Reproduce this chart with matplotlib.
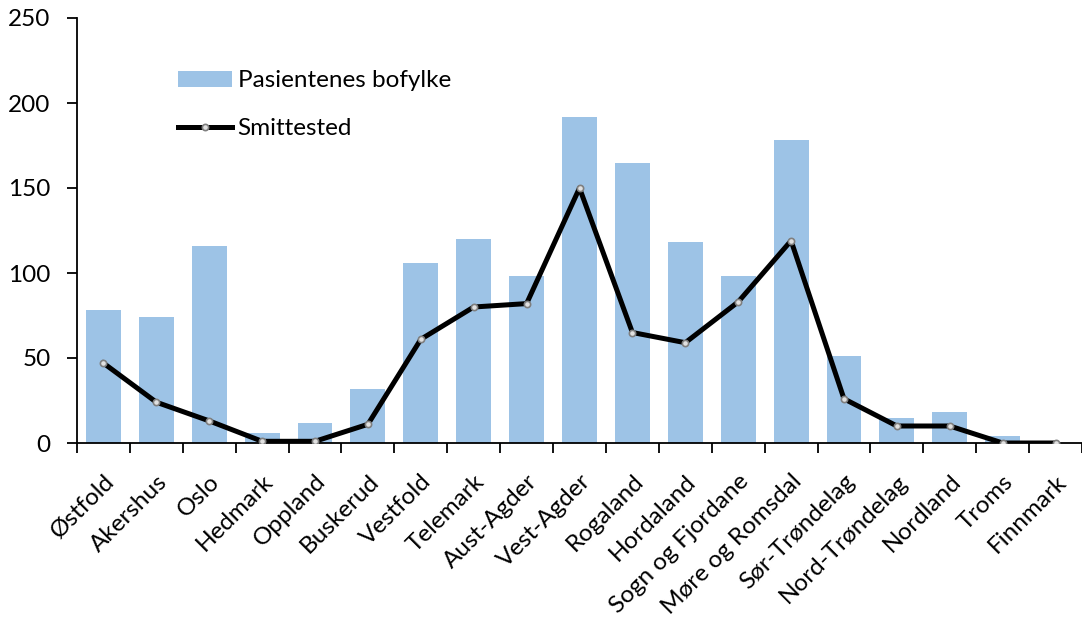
import numpy as np
import matplotlib.pyplot as plt

fylker = ['Østfold', 'Akershus', 'Oslo', 'Hedmark', 'Oppland', 'Buskerud',
          'Vestfold', 'Telemark', 'Aust-Agder', 'Vest-Agder', 'Rogaland',
          'Hordaland', 'Sogn og Fjordane', 'Møre og Romsdal', 'Sør-Trøndelag',
          'Nord-Trøndelag', 'Nordland', 'Troms', 'Finnmark']
bofylke = [78, 74, 116, 6, 12, 32, 106, 120, 98, 192, 165, 118, 98, 178,
           51, 15, 18, 4, 0]
smittested = [47, 24, 13, 1, 1, 11, 61, 80, 82, 150, 65, 59, 83, 119,
              26, 10, 10, 0, 0]

plt.rcParams['font.family'] = ['Lato', 'DejaVu Sans']

fig = plt.figure(figsize=(10.82, 6.28), dpi=100)
ax = fig.add_axes([77 / 1082, (628 - 443) / 628, 1005 / 1082, 425 / 628])

x = np.arange(len(fylker))
bars = ax.bar(x, bofylke, width=0.66, color='#9dc3e6',
              label='Pasientenes bofylke', zorder=2)
line, = ax.plot(x, smittested, color='black', lw=3.6, marker='o', ms=4.5,
                mfc='#e0e0e0', mec='#7f7f7f', mew=1.2, label='Smittested',
                zorder=3)

ax.set_xlim(-0.5, len(fylker) - 0.5)
ax.set_ylim(0, 250)
ax.set_yticks(range(0, 251, 50))

# ticks on category boundaries, labels at centers
ax.set_xticks(np.arange(-0.5, len(fylker), 1.0))
ax.set_xticklabels([])
ax.set_xticks(x, minor=True)
ax.set_xticklabels(fylker, minor=True, rotation=45, ha='right', va='top',
                   rotation_mode='anchor', fontsize=17.5)
ax.tick_params(axis='x', which='minor', length=0, pad=20)
ax.tick_params(axis='x', which='major', length=7, width=1.3, direction='out')
ax.tick_params(axis='y', length=7, width=1.3, direction='out', labelsize=17.5,
               pad=12)

for side in ['top', 'right']:
    ax.spines[side].set_visible(False)
for side in ['left', 'bottom']:
    ax.spines[side].set_linewidth(1.3)

ax.legend([bars, line], ['Pasientenes bofylke', 'Smittested'],
          loc='upper left', bbox_to_anchor=(0.091, 0.9), frameon=False,
          fontsize=17.5, handlelength=2.2, handleheight=0.65,
          handletextpad=0.25, labelspacing=1.1, borderaxespad=0)

fig.savefig('out.png', dpi=100)
